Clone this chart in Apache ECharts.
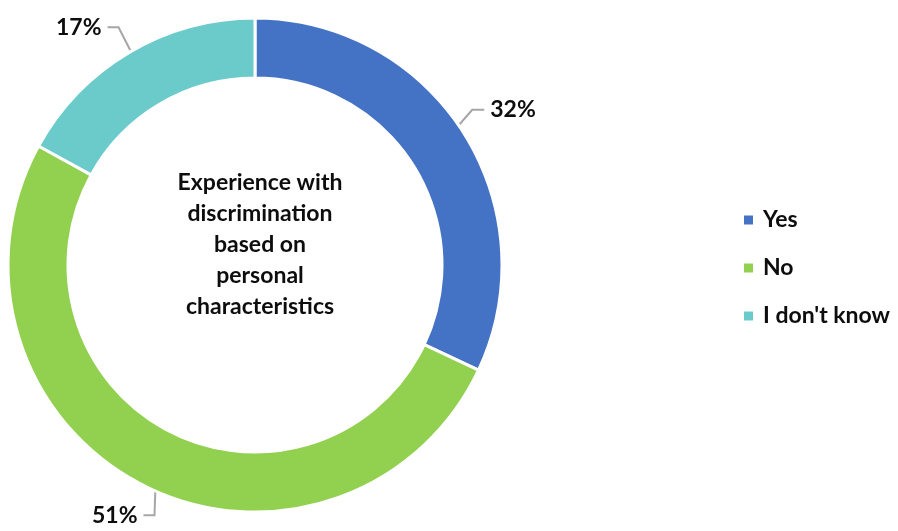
<!DOCTYPE html>
<html>
<head>
<meta charset="utf-8">
<script src="https://cdn.jsdelivr.net/npm/echarts@6/dist/echarts.min.js"></script>
<style>
  html, body { margin: 0; padding: 0; background: #fff; }
  #chart { width: 898px; height: 531px; }
</style>
</head>
<body>
<div id="chart"></div>
<script>
// Survey answers and their shares (percent)
const categories = ['Yes', 'No', "I don't know"];
const shares = [32, 51, 17];
const sliceColors = ['#4472C4', '#92D050', '#6BCBCB'];
const centerTitle = 'Experience with\ndiscrimination\nbased on\npersonal\ncharacteristics';

// Ring geometry
const cx = 255, cy = 265;
const outerR = 247, innerR = 187;
const midR = (outerR + innerR) / 2;

// Leader line shape for each label: [bend dx, bend dy, horizontal run]
const leaders = [[34, -39, 12], [-2, 57, -11], [-26, -51, -11]];

const FONT = 'Lato, "Open Sans", sans-serif';

const total = shares.reduce((s, v) => s + v, 0);
const midAngles = [];
let acc = 0;
shares.forEach(v => {
  midAngles.push((acc + v / 2) / total * Math.PI * 2);
  acc += v;
});

const chart = echarts.init(document.getElementById('chart'), null, { renderer: 'canvas' });

chart.setOption({
  animation: false,
  backgroundColor: '#ffffff',
  color: sliceColors,
  title: {
    text: centerTitle,
    left: cx,
    top: 162,
    textAlign: 'center',
    textStyle: {
      fontFamily: FONT,
      fontSize: 23,
      fontWeight: 'bold',
      lineHeight: 31,
      color: '#0d0d0d'
    }
  },
  legend: {
    orient: 'vertical',
    left: 737,
    top: 203,
    icon: 'rect',
    itemWidth: 11,
    itemHeight: 11,
    itemGap: 24,
    textStyle: {
      fontFamily: FONT,
      fontSize: 23,
      fontWeight: 'bold',
      lineHeight: 24,
      padding: [0, 0, 0, 4],
      color: '#0d0d0d'
    },
    data: categories
  },
  series: [{
    type: 'pie',
    center: [cx, cy],
    radius: [innerR, outerR],
    startAngle: 90,
    clockwise: true,
    avoidLabelOverlap: false,
    itemStyle: { borderColor: '#ffffff', borderWidth: 3 },
    label: {
      show: true,
      position: 'outside',
      formatter: '{c}%',
      fontFamily: FONT,
      fontSize: 23,
      fontWeight: 'bold',
      color: '#0d0d0d'
    },
    labelLine: {
      show: true,
      length: 20,
      length2: 10,
      lineStyle: { color: '#A6A6A6', width: 2 }
    },
    labelLayout: function (p) {
      const i = p.dataIndex;
      const a = midAngles[i];
      const start = [cx + midR * Math.sin(a), cy - midR * Math.cos(a)];
      const ld = leaders[i];
      const bend = [start[0] + ld[0], start[1] + ld[1]];
      const end = [bend[0] + ld[2], bend[1]];
      const right = ld[2] > 0;
      return {
        x: end[0] + (right ? 6 : -6),
        y: end[1],
        align: right ? 'left' : 'right',
        verticalAlign: 'middle',
        labelLinePoints: [start, bend, end]
      };
    },
    emphasis: { disabled: true },
    data: categories.map((name, i) => ({ name: name, value: shares[i] }))
  }]
});
</script>
</body>
</html>
